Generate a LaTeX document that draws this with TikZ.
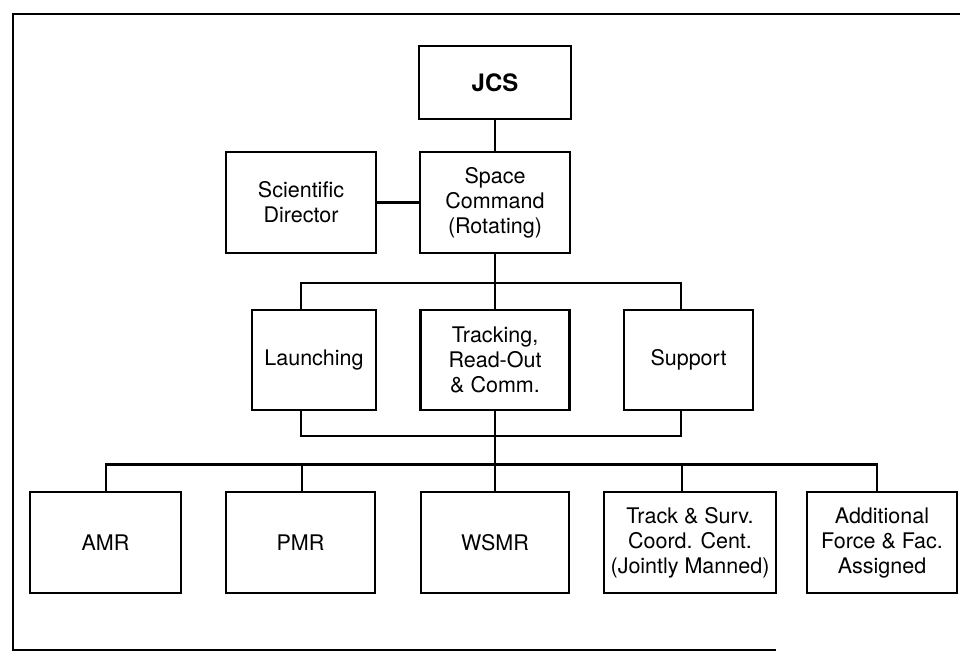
\documentclass[tikz,border=0pt]{standalone}
\usepackage{fontspec}
\setmainfont{TeX Gyre Heros}
\begin{document}
\begin{tikzpicture}[x=1pt,y=-1pt,line width=2.3pt,
  box/.style={draw,line width=2.3pt,inner sep=0pt,align=center,
    font=\fontsize{21.5}{25}\selectfont},
  wide/.style={minimum width=150pt,minimum height=101pt},
  conn/.style={line width=2.3pt}]
\useasboundingbox (0,0) rectangle (960,656);
% frame
\draw[line width=2pt] (960,14) -- (13,14) -- (13,650) -- (776,650);
% top
\node[box,minimum width=152pt,minimum height=73pt,
  font=\fontsize{24}{28}\selectfont\bfseries] (jcs) at (495,82.5) {JCS};
\node[box,wide] (sc) at (495,202.5) {Space\\Command\\(Rotating)};
\node[box,wide] (sd) at (301,202.5) {Scientific\\Director};
% middle row
\node[box,minimum width=124pt,minimum height=100pt] (launch) at (314,360) {Launching};
\node[box,minimum width=149pt,minimum height=100pt] (track) at (495,360) {Tracking,\\Read-Out\\\& Comm.};
\node[box,minimum width=129pt,minimum height=100pt] (support) at (688.5,360) {Support};
% bottom row
\node[box,minimum width=151pt,minimum height=101pt] (amr) at (105.5,542.5) {AMR};
\node[box,minimum width=149pt,minimum height=101pt] (pmr) at (300.5,542.5) {PMR};
\node[box,minimum width=148pt,minimum height=101pt] (wsmr) at (495,542.5) {WSMR};
\node[box,minimum width=172pt,minimum height=101pt] (tsc) at (690,542.5) {Track \& Surv.\\Coord. Cent.\\(Jointly Manned)};
\node[box,minimum width=150pt,minimum height=101pt] (add) at (882,542.5) {Additional\\Force \& Fac.\\Assigned};
% bus coordinates
\coordinate (b1l) at (301,283);
\coordinate (b1r) at (681,283);
\coordinate (b2l) at (301,436);
\coordinate (b2r) at (681,436);
\coordinate (c1) at (106,464.5);
\coordinate (c2) at (302,464.5);
\coordinate (c4) at (682,464.5);
\coordinate (c5) at (877,464.5);
% connectors
\draw[conn] (jcs.south) -- (sc.north);
\draw[conn] (sd.east) -- (sc.west);
\draw[conn] (sc.south) -- (track.north);
\draw[conn] (launch.north -| b1l) -- (b1l) -- (b1r) -- (support.north -| b1r);
\draw[conn] (launch.south -| b2l) -- (b2l) -- (b2r) -- (support.south -| b2r);
\draw[conn] (track.south) -- (wsmr.north);
\draw[conn] (amr.north -| c1) -- (c1) -- (c5) -- (add.north -| c5);
\draw[conn] (c2) -- (pmr.north -| c2);
\draw[conn] (c4) -- (tsc.north -| c4);
\end{tikzpicture}
\end{document}
